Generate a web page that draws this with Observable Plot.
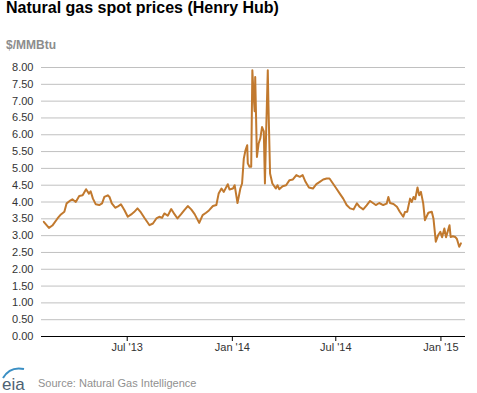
<!DOCTYPE html>
<html><head><meta charset="utf-8">
<script src="https://cdn.jsdelivr.net/npm/d3@7"></script>
<script src="https://cdn.jsdelivr.net/npm/@observablehq/plot@0.6"></script>
<style>
body{margin:0;background:#fff;font-family:"Liberation Sans",Arial,sans-serif;}
#wrap{position:relative;width:477px;height:393px;overflow:hidden;background:#fff;}
#title{position:absolute;left:6px;top:0;font-size:16px;line-height:16px;font-weight:bold;color:#000;white-space:nowrap;}
#unit{position:absolute;left:6px;top:38px;font-size:12px;line-height:14px;font-weight:bold;color:#8c8c8c;}
#chart{position:absolute;left:0;top:56px;}
#source{position:absolute;left:38px;top:377px;font-size:11px;line-height:13px;color:#909090;white-space:nowrap;}
#logo{position:absolute;left:0;top:362px;}
</style>
</head><body>
<div id="wrap">
  <div id="title">Natural gas spot prices (Henry Hub)</div>
  <div id="unit">$/MMBtu</div>
  <div id="chart"></div>
  <svg id="logo" width="34" height="31" viewBox="0 0 34 31">
    <path d="M3,16 Q10,4 24,7" fill="none" stroke="#3a8fc4" stroke-width="2"/>
    <text x="2" y="28" font-family="Liberation Sans, Arial, sans-serif" font-size="17" fill="#4d6273">eia</text>
  </svg>
  <div id="source">Source: Natural Gas Intelligence</div>
</div>
<script>
const dates = ["2013-02-05","2013-02-14","2013-02-20","2013-03-01","2013-03-07","2013-03-13","2013-03-17","2013-03-24","2013-03-27","2013-04-02",
"2013-04-08","2013-04-14","2013-04-20","2013-04-25","2013-04-28","2013-05-02","2013-05-07","2013-05-13","2013-05-18","2013-05-22",
"2013-05-28","2013-05-31","2013-06-04","2013-06-10","2013-06-14","2013-06-20","2013-06-26","2013-07-02","2013-07-08","2013-07-13",
"2013-07-19","2013-07-25","2013-07-31","2013-08-09","2013-08-15","2013-08-21","2013-08-26","2013-08-31","2013-09-04","2013-09-10",
"2013-09-16","2013-09-22","2013-09-27","2013-10-03","2013-10-09","2013-10-15","2013-10-21","2013-10-27","2013-11-04","2013-11-10",
"2013-11-16","2013-11-21","2013-11-28","2013-12-04","2013-12-08","2013-12-13","2013-12-17","2013-12-24","2013-12-27","2014-01-02",
"2014-01-05","2014-01-10","2014-01-15","2014-01-18","2014-01-21","2014-01-24","2014-01-27","2014-01-28","2014-01-31","2014-02-03",
"2014-02-05","2014-02-07","2014-02-09","2014-02-10","2014-02-13","2014-02-16","2014-02-19","2014-02-22","2014-02-25","2014-02-27",
"2014-03-01","2014-03-04","2014-03-05","2014-03-08","2014-03-12","2014-03-18","2014-03-21","2014-03-24","2014-03-30","2014-04-05",
"2014-04-11","2014-04-17","2014-04-23","2014-04-29","2014-05-04","2014-05-09","2014-05-15","2014-05-22","2014-05-28","2014-06-03",
"2014-06-09","2014-06-15","2014-06-20","2014-06-26","2014-07-02","2014-07-08","2014-07-14","2014-07-20","2014-07-26","2014-08-01",
"2014-08-07","2014-08-12","2014-08-18","2014-08-24","2014-08-30","2014-09-04","2014-09-09","2014-09-15","2014-09-22","2014-09-28",
"2014-10-01","2014-10-04","2014-10-10","2014-10-16","2014-10-21","2014-10-27","2014-10-30","2014-11-03","2014-11-08","2014-11-11",
"2014-11-14","2014-11-17","2014-11-21","2014-11-24","2014-11-27","2014-12-01","2014-12-04","2014-12-10","2014-12-16","2014-12-19",
"2014-12-23","2014-12-27","2014-12-31","2015-01-03","2015-01-07","2015-01-10","2015-01-16","2015-01-18","2015-01-22","2015-01-26",
"2015-01-29","2015-02-02","2015-02-05"];

const prices = [3.41,3.23,3.30,3.51,3.63,3.71,3.96,4.05,4.08,4.00,
4.18,4.20,4.38,4.25,4.32,4.10,3.93,3.91,3.96,4.15,
4.20,4.15,3.96,3.83,3.86,3.93,3.76,3.56,3.63,3.70,
3.81,3.69,3.53,3.31,3.36,3.51,3.56,3.53,3.66,3.59,
3.79,3.63,3.51,3.63,3.76,3.88,3.78,3.64,3.38,3.61,
3.68,3.75,3.88,3.91,4.25,4.40,4.30,4.53,4.37,4.40,
4.50,3.97,4.40,4.55,5.29,5.54,5.69,5.15,5.05,5.05,
7.92,7.23,6.70,7.72,5.34,5.74,5.90,6.23,6.10,4.55,
6.00,7.92,7.00,4.85,4.55,4.40,4.50,4.38,4.47,4.50,
4.65,4.67,4.80,4.75,4.80,4.60,4.43,4.40,4.53,4.60,
4.67,4.70,4.70,4.55,4.40,4.25,4.10,3.91,3.81,3.78,
3.96,3.85,3.78,3.90,4.03,3.97,3.91,3.97,3.91,3.95,
4.15,3.97,3.94,3.86,3.71,3.56,3.70,3.71,4.10,4.00,
4.15,4.08,4.43,4.20,4.30,3.96,3.46,3.68,3.71,3.50,
2.82,3.01,3.11,2.95,3.21,2.95,3.31,2.96,2.98,2.96,
2.90,2.67,2.77];

const yTicks = [0,0.5,1,1.5,2,2.5,3,3.5,4,4.5,5,5.5,6,6.5,7,7.5,8];
const xTicks = ["2013-07-01","2014-01-01","2014-07-01","2015-01-01"];
const xDomain = ["2013-02-01","2015-02-13"];

const data = dates.map((d, i) => ({date: new Date(d), price: prices[i]}));

const chart = Plot.plot({
  width: 477,
  height: 304,
  marginLeft: 41,
  marginRight: 12,
  marginTop: 11,
  marginBottom: 24,
  style: {fontFamily: "Liberation Sans, Arial, sans-serif", fontSize: "11px", background: "transparent", color: "#333", overflow: "visible"},
  x: {type: "utc", domain: xDomain.map(d => new Date(d)), label: null},
  y: {domain: [0, 8], label: null},
  marks: [
    Plot.gridY(yTicks.filter(v => v > 0), {stroke: "#c0c0c0", strokeOpacity: 1}),
    Plot.ruleY([0], {stroke: "#000", strokeWidth: 1}),
    Plot.axisY(yTicks, {tickFormat: d3.format(".2f"), tickSize: 0, tickPadding: 8, fill: "#333", label: null}),
    Plot.axisX(xTicks.map(d => new Date(d)), {tickFormat: d3.utcFormat("%b '%y"), tickSize: 5, tickPadding: 2, stroke: "#000", fill: "#333", label: null}),
    Plot.lineY(data, {x: "date", y: "price", stroke: "#c1792e", strokeWidth: 2})
  ]
});
document.getElementById("chart").appendChild(chart);
</script>
</body></html>
